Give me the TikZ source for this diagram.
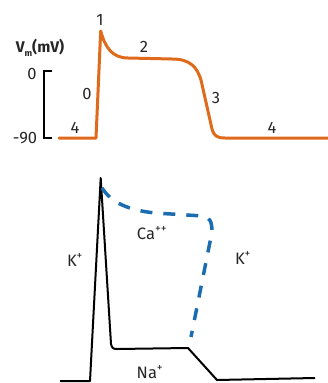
\documentclass[tikz,border=0pt]{standalone}
\usepackage{fontspec}
\setmainfont{Fira Sans}
\definecolor{apcol}{HTML}{E06A1B}
\definecolor{cacol}{HTML}{1C6DB0}
\begin{document}
\begin{tikzpicture}[x=1pt,y=-1pt,
  lbl/.style={font=\fontsize{16.5}{18}\selectfont, text=black!85, inner sep=0pt},
  apline/.style={draw=apcol, line width=3pt, line join=round, line cap=round},
  ionline/.style={draw=black, line width=2pt, line join=round},
  caline/.style={draw=cacol, line width=3.5pt, dash pattern=on 12pt off 11pt}]
\useasboundingbox (0,0) rectangle (327,383);
% top action potential
\draw[apline] (59,138) -- (96,138) -- (100.7,31)
  .. controls (105,47) and (112,58) .. (128,58) -- (172,59)
  .. controls (190,59) and (197,67) .. (201,80) -- (212,129)
  .. controls (214,136) and (217,138) .. (225,138) -- (330,138);
% scale bracket
\draw[line width=2pt, line cap=butt] (52,71) -- (43.5,71) -- (43.5,138) -- (52,138);
\node[lbl, font=\fontsize{15.5}{18}\selectfont\bfseries] (vm) at (40,48) {V\raisebox{-4pt}{\fontsize{9}{10}\selectfont m}(mV)};
\node[lbl] (zero) at (32,74) {0};
\node[lbl] (m90) at (25,138) {-90};
\node[lbl] (p1) at (100,20) {1};
\node[lbl] (p2) at (144,47) {2};
\node[lbl] (p0) at (87,94) {0};
\node[lbl] (p3) at (216,98) {3};
\node[lbl] (p4a) at (75,128) {4};
\node[lbl] (p4b) at (272,128) {4};
% bottom currents
\draw[ionline] (60,381) -- (90,381) -- (100.7,178) -- (111,344)
  .. controls (112,348) and (113,349) .. (117,349) -- (188,348) -- (217,380) -- (315,378);
\draw[caline] (102,188) .. controls (112,203) and (128,210) .. (155,213) -- (203,216)
  .. controls (210,217) and (212,222) .. (212,232) -- (191,337);
\node[lbl] (ca) at (152,233) {Ca\textsuperscript{++}};
\node[lbl] (k1) at (75,260) {K\textsuperscript{+}};
\node[lbl] (k2) at (243,258) {K\textsuperscript{+}};
\node[lbl] (na) at (150,372) {Na\textsuperscript{+}};
\end{tikzpicture}
\end{document}
